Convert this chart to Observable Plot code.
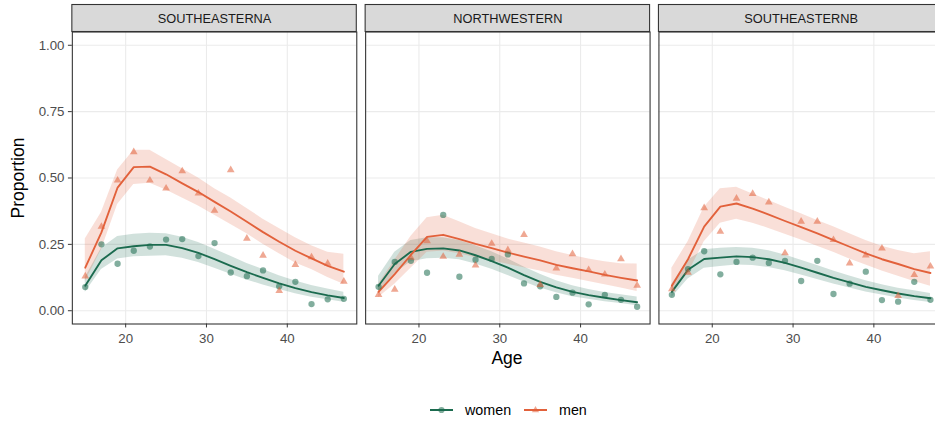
<!DOCTYPE html>
<html>
<head>
<meta charset="utf-8">
<script src="https://cdn.jsdelivr.net/npm/d3@7"></script>
<script src="https://cdn.jsdelivr.net/npm/@observablehq/plot@0.6"></script>
<style>
  html, body { margin: 0; padding: 0; background: #fff; }
  body { width: 935px; height: 424px; overflow: hidden; position: relative;
         font-family: "Liberation Sans", Arial, Helvetica, sans-serif; }
  #chart { position: absolute; left: 0; top: 0; }
  .ttl { position: absolute; font-size: 17.5px; color: #000; white-space: nowrap; }
  #ylab { left: 18px; top: 178px; transform: translate(-50%, -50%) rotate(-90deg); }
  #xlab { left: 507px; top: 358px; transform: translate(-50%, -50%); }
  #legend { position: absolute; left: 0; top: 396px; }
</style>
</head>
<body>
<div id="chart"></div>
<div id="ylab" class="ttl">Proportion</div>
<div id="xlab" class="ttl">Age</div>
<div id="legend"></div>
<script>
// ---------- data ----------
const regions = ["SOUTHEASTERNA", "NORTHWESTERN", "SOUTHEASTERNB"];
const sexes = ["women", "men"];
const ages = [15, 17, 19, 21, 23, 25, 27, 29, 31, 33, 35, 37, 39, 41, 43, 45, 47];
const yTicks = [0, 0.25, 0.5, 0.75, 1];
const xTicks = [20, 30, 40];

// SOUTHEASTERNA
const womenObsA = [0.089, 0.25, 0.177, 0.226, 0.242, 0.268, 0.27, 0.206, 0.255, 0.144, 0.13, 0.152, 0.092, 0.109, 0.025, 0.043, 0.045];
const menObsA   = [0.13, 0.317, 0.491, 0.598, 0.491, 0.461, 0.526, 0.442, 0.377, 0.53, 0.272, 0.208, 0.075, 0.173, 0.202, 0.178, 0.11];
const womenFitA = [0.094, 0.19, 0.235, 0.243, 0.248, 0.248, 0.236, 0.218, 0.194, 0.169, 0.145, 0.124, 0.103, 0.085, 0.07, 0.058, 0.048];
const womenLoA  = [0.07, 0.155, 0.195, 0.203, 0.205, 0.207, 0.198, 0.182, 0.16, 0.137, 0.116, 0.097, 0.08, 0.064, 0.051, 0.041, 0.032];
const womenHiA  = [0.125, 0.235, 0.28, 0.288, 0.292, 0.29, 0.277, 0.257, 0.232, 0.205, 0.178, 0.155, 0.132, 0.112, 0.095, 0.082, 0.07];
const menFitA   = [0.162, 0.295, 0.464, 0.541, 0.543, 0.514, 0.48, 0.447, 0.41, 0.374, 0.335, 0.296, 0.26, 0.226, 0.197, 0.169, 0.147];
const menLoA    = [0.11, 0.23, 0.4, 0.476, 0.48, 0.455, 0.425, 0.395, 0.36, 0.325, 0.29, 0.25, 0.215, 0.18, 0.155, 0.125, 0.1];
const menHiA    = [0.27, 0.37, 0.53, 0.605, 0.605, 0.57, 0.535, 0.5, 0.46, 0.425, 0.385, 0.345, 0.31, 0.275, 0.245, 0.22, 0.213];

// NORTHWESTERN
const womenObsN = [0.09, 0.184, 0.188, 0.143, 0.361, 0.128, 0.192, 0.195, 0.212, 0.103, 0.092, 0.052, 0.068, 0.024, 0.06, 0.041, 0.015];
const menObsN   = [0.06, 0.08, 0.2, 0.263, 0.204, 0.212, 0.171, 0.253, 0.229, 0.286, 0.098, 0.16, 0.214, 0.154, 0.137, 0.195, 0.095];
const womenFitN = [0.094, 0.176, 0.222, 0.233, 0.235, 0.227, 0.209, 0.187, 0.162, 0.134, 0.109, 0.088, 0.071, 0.059, 0.049, 0.04, 0.032];
const womenLoN  = [0.068, 0.14, 0.185, 0.196, 0.198, 0.192, 0.176, 0.156, 0.133, 0.108, 0.086, 0.068, 0.053, 0.043, 0.034, 0.027, 0.019];
const womenHiN  = [0.13, 0.22, 0.265, 0.275, 0.275, 0.265, 0.245, 0.222, 0.195, 0.165, 0.137, 0.113, 0.094, 0.08, 0.069, 0.06, 0.052];
const menFitN   = [0.071, 0.138, 0.21, 0.278, 0.286, 0.27, 0.252, 0.236, 0.219, 0.204, 0.19, 0.173, 0.16, 0.148, 0.135, 0.124, 0.114];
const menLoN    = [0.05, 0.1, 0.16, 0.22, 0.225, 0.215, 0.2, 0.188, 0.175, 0.162, 0.15, 0.134, 0.122, 0.11, 0.098, 0.086, 0.072];
const menHiN    = [0.1, 0.19, 0.28, 0.35, 0.36, 0.335, 0.31, 0.29, 0.27, 0.255, 0.24, 0.222, 0.208, 0.195, 0.185, 0.177, 0.176];

// SOUTHEASTERNB
const womenObsB = [0.06, 0.157, 0.224, 0.137, 0.184, 0.2, 0.18, 0.188, 0.112, 0.188, 0.063, 0.102, 0.147, 0.04, 0.034, 0.109, 0.041];
const menObsB   = [0.082, 0.144, 0.387, 0.298, 0.423, 0.441, 0.409, 0.217, 0.336, 0.336, 0.267, 0.179, 0.209, 0.235, 0.056, 0.135, 0.167];
const womenFitB = [0.071, 0.154, 0.195, 0.2, 0.205, 0.202, 0.194, 0.18, 0.162, 0.143, 0.124, 0.107, 0.09, 0.077, 0.065, 0.055, 0.047];
const womenLoB  = [0.05, 0.12, 0.16, 0.167, 0.172, 0.17, 0.163, 0.151, 0.135, 0.118, 0.101, 0.086, 0.071, 0.059, 0.048, 0.039, 0.031];
const womenHiB  = [0.1, 0.19, 0.23, 0.235, 0.238, 0.235, 0.226, 0.21, 0.19, 0.17, 0.15, 0.131, 0.113, 0.098, 0.085, 0.075, 0.065];
const menFitB   = [0.094, 0.194, 0.317, 0.392, 0.404, 0.385, 0.362, 0.338, 0.315, 0.291, 0.266, 0.241, 0.216, 0.194, 0.176, 0.157, 0.142];
const menLoB    = [0.07, 0.14, 0.26, 0.33, 0.345, 0.33, 0.31, 0.288, 0.266, 0.243, 0.22, 0.195, 0.172, 0.15, 0.13, 0.11, 0.092];
const menHiB    = [0.16, 0.26, 0.39, 0.46, 0.465, 0.44, 0.415, 0.39, 0.365, 0.34, 0.316, 0.29, 0.265, 0.243, 0.227, 0.215, 0.222];

// ---------- styling ----------
const colWomen = "#1b6b4f";
const colMen = "#e2613b";
const FONT = '"Liberation Sans", Arial, Helvetica, sans-serif';

// ---------- tidy table built from the arrays ----------
const series = {
  SOUTHEASTERNA: {women: [womenObsA, womenFitA, womenLoA, womenHiA], men: [menObsA, menFitA, menLoA, menHiA]},
  NORTHWESTERN:  {women: [womenObsN, womenFitN, womenLoN, womenHiN], men: [menObsN, menFitN, menLoN, menHiN]},
  SOUTHEASTERNB: {women: [womenObsB, womenFitB, womenLoB, womenHiB], men: [menObsB, menFitB, menLoB, menHiB]}
};
const rows = [];
for (const region of regions) {
  for (const sex of sexes) {
    const [obs, fit, lo, hi] = series[region][sex];
    ages.forEach((age, i) => rows.push({region, sex, age, obs: obs[i], fit: fit[i], lo: lo[i], hi: hi[i]}));
  }
}
const stripRows = regions.map(r => ({region: r}));

const xDom = [13.4, 48.6];
const yDom = [-0.05, 1.05];
const W = 950, H = 380;
// target panel geometry (px) measured on the reference
const T = {left: 71, right1: 355.5, left2: 365, right3: 943.5, top: 32, bottom: 324, strip: 27};

function build(p) {
  const pxPerUnit = (T.bottom - T.top) / (yDom[1] - yDom[0]);
  const stripTop = yDom[1] + T.strip / pxPerUnit;
  return Plot.plot({
    width: W, height: H,
    marginLeft: p.mL, marginRight: p.mR, marginTop: p.mT, marginBottom: p.mB,
    style: {fontFamily: FONT, background: "white", overflow: "visible"},
    fx: {domain: regions, paddingInner: p.pad, paddingOuter: 0, axis: null, label: null},
    x: {domain: xDom},
    y: {domain: yDom},
    color: {domain: sexes, range: [colWomen, colMen]},
    marks: [
      Plot.gridX(xTicks, {stroke: "#ebebeb", strokeOpacity: 1, strokeWidth: 1.1}),
      Plot.gridY(yTicks, {stroke: "#ebebeb", strokeOpacity: 1, strokeWidth: 1.1}),
      Plot.areaY(rows, {fx: "region", x: "age", y1: "lo", y2: "hi", z: "sex", fill: "sex", fillOpacity: 0.2}),
      Plot.line(rows, {fx: "region", x: "age", y: "fit", z: "sex", stroke: "sex", strokeWidth: 1.9}),
      Plot.dot(rows.filter(d => d.sex === "women"), {fx: "region", x: "age", y: "obs", fill: colWomen, fillOpacity: 0.55, r: 3.2, symbol: "circle"}),
      Plot.dot(rows.filter(d => d.sex === "men"), {fx: "region", x: "age", y: "obs", fill: colMen, fillOpacity: 0.55, r: 2.9, symbol: "triangle"}),
      Plot.frame({stroke: "#333333", strokeWidth: 1.1}),
      Plot.rect(stripRows, {fx: "region", x1: () => xDom[0], x2: () => xDom[1], y1: () => yDom[1], y2: () => stripTop, fill: "#d9d9d9", stroke: "#333333", strokeWidth: 1.1}),
      Plot.text(stripRows, {fx: "region", x: () => (xDom[0] + xDom[1]) / 2, y: () => (yDom[1] + stripTop) / 2, text: "region", fontSize: 13, fill: "#1a1a1a"}),
      Plot.axisY(yTicks, {tickFormat: d3.format(".2f"), tickSize: 4, tickPadding: 4, fontSize: 13.5, stroke: "#333333", fill: "#4d4d4d", label: null}),
      Plot.axisX(xTicks, {tickSize: 4, tickPadding: 6, fontSize: 13.5, stroke: "#333333", fill: "#4d4d4d", label: null})
    ]
  });
}

// Render, measure the panel frames, and nudge the margins so the panels land where the reference has them.
const holder = document.getElementById("chart");
let p = {mL: 71, mR: 6.5, mT: 32, mB: 56, pad: 0.033};
let chart;
for (let iter = 0; iter < 5; iter++) {
  holder.innerHTML = "";
  chart = build(p);
  holder.appendChild(chart);
  const base = chart.getBoundingClientRect();
  const rects = Array.from(chart.querySelectorAll('g[aria-label="frame"] rect'))
    .map(r => r.getBoundingClientRect())
    .map(b => ({l: b.left - base.left, r: b.right - base.left, t: b.top - base.top, b: b.bottom - base.top}))
    .sort((a, b) => a.l - b.l);
  if (rects.length < 3) break;
  const L1 = rects[0].l, R1 = rects[0].r, L2 = rects[1].l, R3 = rects[2].r;
  const top = rects[0].t, bottom = rects[0].b;
  const err = Math.abs(L1 - T.left) + Math.abs(R3 - T.right3) + Math.abs(top - T.top) + Math.abs(bottom - T.bottom) + Math.abs((L2 - R1) - (T.left2 - T.right1));
  if (err < 0.3) break;
  p.mL += T.left - L1;
  p.mR += R3 - T.right3;
  p.mT += T.top - top;
  p.mB += bottom - T.bottom;
  const gap = L2 - R1;
  if (gap > 0.5) p.pad *= (T.left2 - T.right1) / gap;
}

// ---------- legend ----------
const ns = "http://www.w3.org/2000/svg";
const lg = document.createElementNS(ns, "svg");
lg.setAttribute("width", 935);
lg.setAttribute("height", 28);
const mk = (tag, attrs) => { const e = document.createElementNS(ns, tag); for (const k in attrs) e.setAttribute(k, attrs[k]); lg.appendChild(e); return e; };
const cy = 14;
const items = [
  {label: sexes[0], color: colWomen, x0: 430, tx: 465, sym: "circle"},
  {label: sexes[1], color: colMen, x0: 524, tx: 559, sym: "triangle"}
];
for (const it of items) {
  mk("line", {x1: it.x0, x2: it.x0 + 23, y1: cy, y2: cy, stroke: it.color, "stroke-width": 2});
  const cx = it.x0 + 11.5;
  if (it.sym === "circle") mk("circle", {cx, cy, r: 3.1, fill: it.color, "fill-opacity": 0.55});
  else mk("path", {d: `M${cx},${cy - 4}L${cx + 3.6},${cy + 2.2}L${cx - 3.6},${cy + 2.2}Z`, fill: it.color, "fill-opacity": 0.55});
  const t = mk("text", {x: it.tx, y: cy, "dominant-baseline": "central", "font-size": 14.3, fill: "#000", "font-family": FONT});
  t.textContent = it.label;
}
document.getElementById("legend").appendChild(lg);
</script>
</body>
</html>
